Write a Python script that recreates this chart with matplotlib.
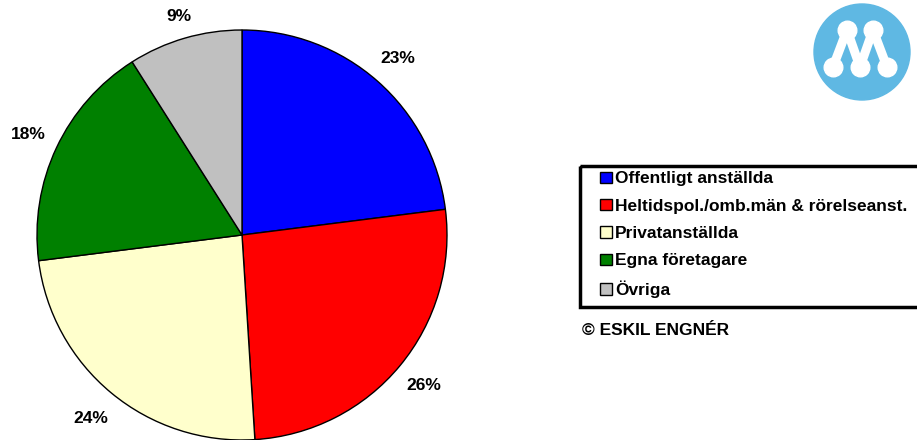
import matplotlib.pyplot as plt
from matplotlib.patches import Circle, Rectangle

plt.rcParams['font.family'] = ['Liberation Sans', 'DejaVu Sans']
plt.rcParams['font.weight'] = 'bold'

# data
categories = ['Offentligt anställda', 'Heltidspol./omb.män & rörelseanst.',
              'Privatanställda', 'Egna företagare', 'Övriga']
shares = [23, 26, 24, 18, 9]
colors = ['#0000ff', '#ff0000', '#ffffcc', '#008000', '#c0c0c0']
label_dist = [1.15, 1.15, 1.16, 1.15, 1.11]

W, H = 917, 440
fig = plt.figure(figsize=(W / 100, H / 100), dpi=100)

# pie axes, square in pixels: centre (242, 235), radius 205
cx, cy, r = 242, 235, 205
ax = fig.add_axes([(cx - r) / W, (H - cy - r) / H, 2 * r / W, 2 * r / H])
wedges, texts = ax.pie(shares, colors=colors, startangle=90, counterclock=False,
                       labels=[f'{v}%' for v in shares], labeldistance=1.15,
                       wedgeprops=dict(edgecolor='black', linewidth=1),
                       textprops=dict(fontsize=12.5, fontweight='bold'))
for t, d in zip(texts, label_dist):
    x, y = t.get_position()
    t.set_position((x / 1.15 * d, y / 1.15 * d))
    t.set_ha('center')
    t.set_va('center')
    t.set_clip_on(False)
ax.set_xlim(-1, 1)
ax.set_ylim(-1, 1)
ax.axis('off')

# overlay in pixel coordinates for the logo and legend frame
ov = fig.add_axes([0, 0, 1, 1], zorder=-1)
ov.set_xlim(0, W)
ov.set_ylim(H, 0)
ov.axis('off')
ov.add_patch(Circle((862, 52), 48, color='#5fb8e3'))
mx = [833, 847, 860, 873, 887]
my = [67, 30, 67, 30, 67]
ov.plot(mx, my, color='white', lw=6.5, solid_capstyle='round')
ov.scatter(mx, my, s=180, color='white', zorder=3)
ov.add_patch(Rectangle((580, 166), 380, 141, fill=False,
                       edgecolor='black', lw=2.5))

leg = fig.legend(wedges, categories, loc='upper left',
                 bbox_to_anchor=(597 / W, 1 - 168 / H),
                 prop=dict(size=12.5, weight='bold'), frameon=False,
                 handlelength=0.65, handleheight=0.65, handletextpad=0.2,
                 labelspacing=0.71, borderpad=0.2, borderaxespad=0)
for h in leg.legend_handles:
    h.set_edgecolor('black')
    h.set_linewidth(1)

fig.text(582 / W, 1 - 330 / H, '© ESKIL ENGNÉR', fontsize=12.5,
         fontweight='bold', va='center', ha='left')

fig.savefig('out.png', dpi=100)
